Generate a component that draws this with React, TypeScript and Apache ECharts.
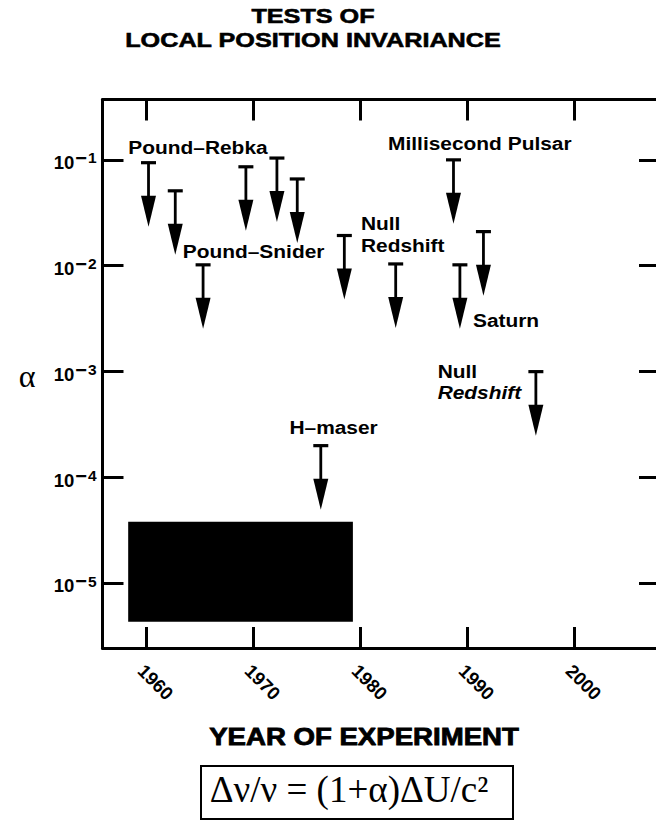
import React, { useEffect, useRef } from "react";
import * as echarts from "echarts";

const FONT = "'Liberation Sans', Arial, Helvetica, sans-serif";
const SERIF = "'Liberation Serif', 'Times New Roman', Times, serif";

// ---- texts ----
const TITLE_LINES = ["TESTS OF", "LOCAL POSITION INVARIANCE"];
const X_AXIS_TITLE = "YEAR OF EXPERIMENT";
const Y_AXIS_TITLE = "α";
const FORMULA = "Δν/ν = (1+α)ΔU/c²";

// ---- axes ----
const YEAR_RANGE = [1955.9, 2008];
const ALPHA_EXP_RANGE = [-5.61, -0.43];
const YEAR_TICKS = [1960, 1970, 1980, 1990, 2000];
const ALPHA_TICK_EXPONENTS = [-1, -2, -3, -4, -5];

// ---- upper limits on alpha (arrows) ----
const EXPERIMENT_YEARS = [1960.2, 1962.7, 1969.3, 1972.2, 1974.1, 1965.3, 1978.5, 1983.3, 1988.7, 1989.3, 1991.5, 1996.4, 1976.3];
const ALPHA_LIMITS = [0.094, 0.051, 0.086, 0.104, 0.066, 0.0102, 0.0193, 0.0104, 0.1, 0.0102, 0.021, 0.001, 0.0002];

// ---- annotation labels (anchor = left edge, text middle, in data units) ----
const LABEL_TEXTS = ["Pound–Rebka", "Pound–Snider", "Millisecond Pulsar", "Null", "Redshift", "Saturn", "Null", "Redshift", "H–maser"];
const LABEL_YEARS = [1958.31, 1963.4, 1982.59, 1980.05, 1980.05, 1990.52, 1987.22, 1987.22, 1973.37];
const LABEL_ALPHAS = [0.1305, 0.01378, 0.1443, 0.02518, 0.0157, 0.003073, 0.001001, 0.000634, 0.000298];
const LABEL_ITALIC = [false, false, false, false, false, false, false, true, false];

// ---- shaded region (black box) ----
const SHADED_YEARS = [1958.3, 1979.3];
const SHADED_ALPHAS = [3.83e-5, 4.35e-6];

function buildOption() {
  const lineStyle = { color: "#000", width: 3 };
  const mkTick = (custom: number[]) => ({
    show: true,
    inside: true,
    length: 21,
    customValues: custom,
    lineStyle: { color: "#000", width: 3 },
  });
  const yMin = Math.pow(10, ALPHA_EXP_RANGE[0]);
  const yMax = Math.pow(10, ALPHA_EXP_RANGE[1]);
  const alphaTicks = ALPHA_TICK_EXPONENTS.map((e) => Math.pow(10, e));

  const xFormatter = (v: number) => {
    const r = Math.round(v);
    return Math.abs(v - r) < 1e-6 && YEAR_TICKS.includes(r) ? String(r) : "";
  };
  const yFormatter = (v: number) => {
    const e = Math.log10(v);
    const r = Math.round(e);
    if (Math.abs(e - r) > 1e-6 || !ALPHA_TICK_EXPONENTS.includes(r)) return "";
    return `{b|10}{m|−}{t|${-r}}`;
  };

  return {
    animation: false,
    backgroundColor: "#fff",
    grid: { left: 102.5, top: 99.5, width: 557.5, height: 548.5, outerBoundsMode: "none", containLabel: false },
    xAxis: [
      {
        type: "value",
        position: "bottom",
        min: YEAR_RANGE[0],
        max: YEAR_RANGE[1],
        splitLine: { show: false },
        axisLine: { show: true, onZero: false, lineStyle },
        axisTick: mkTick(YEAR_TICKS),
        axisLabel: {
          customValues: YEAR_TICKS,
          formatter: xFormatter,
          rotate: -45,
          align: "center",
          verticalAlign: "middle",
          margin: 25,
          padding: [0, 0, 0, 26],
          fontSize: 18.5,
          fontWeight: "bold",
          fontFamily: FONT,
          color: "#000",
        },
      },
      {
        type: "value",
        position: "top",
        min: YEAR_RANGE[0],
        max: YEAR_RANGE[1],
        splitLine: { show: false },
        axisLine: { show: true, onZero: false, lineStyle },
        axisTick: mkTick(YEAR_TICKS),
        axisLabel: { show: false, customValues: YEAR_TICKS },
      },
    ],
    yAxis: [
      {
        type: "log",
        logBase: 10,
        position: "left",
        min: yMin,
        max: yMax,
        splitLine: { show: false },
        axisLine: { show: true, onZero: false, lineStyle },
        axisTick: mkTick(alphaTicks),
        axisLabel: {
          customValues: alphaTicks,
          formatter: yFormatter,
          margin: 6,
          color: "#000",
          fontSize: 18,
          fontWeight: "bold",
          fontFamily: FONT,
          rich: {
            b: { fontSize: 18.5, fontWeight: "bold", fontFamily: FONT, color: "#000", padding: [5, 0, 0, 0] },
            m: { fontSize: 20, fontWeight: "bold", fontFamily: FONT, color: "#000", padding: [0, 1, 4, 1] },
            t: { fontSize: 15.5, fontWeight: "bold", fontFamily: FONT, color: "#000", padding: [0, 0, 4, 0] },
          },
        },
      },
      {
        type: "log",
        logBase: 10,
        position: "right",
        min: yMin,
        max: yMax,
        splitLine: { show: false },
        axisLine: { show: true, onZero: false, lineStyle },
        axisTick: mkTick(alphaTicks),
        axisLabel: { show: false, customValues: alphaTicks },
      },
    ],
    series: [
      {
        type: "custom",
        name: "shaded",
        xAxisIndex: 0,
        yAxisIndex: 0,
        encode: { x: [0, 2], y: [1, 3] },
        data: [[SHADED_YEARS[0], SHADED_ALPHAS[0], SHADED_YEARS[1], SHADED_ALPHAS[1]]],
        renderItem: (params: any, api: any) => {
          const p0 = api.coord([api.value(0), api.value(1)]);
          const p1 = api.coord([api.value(2), api.value(3)]);
          return {
            type: "rect",
            shape: {
              x: Math.min(p0[0], p1[0]),
              y: Math.min(p0[1], p1[1]),
              width: Math.abs(p1[0] - p0[0]),
              height: Math.abs(p1[1] - p0[1]),
            },
            style: { fill: "#000" },
          };
        },
      },
      {
        type: "custom",
        name: "limits",
        xAxisIndex: 0,
        yAxisIndex: 0,
        data: EXPERIMENT_YEARS.map((yr, i) => [yr, ALPHA_LIMITS[i]]),
        renderItem: (params: any, api: any) => {
          const p = api.coord([api.value(0), api.value(1)]);
          const x = p[0];
          const y = p[1];
          return {
            type: "group",
            children: [
              { type: "line", shape: { x1: x - 7.5, y1: y, x2: x + 7.5, y2: y }, style: { stroke: "#000", lineWidth: 3.2 } },
              { type: "line", shape: { x1: x, y1: y, x2: x, y2: y + 36 }, style: { stroke: "#000", lineWidth: 2.8 } },
              { type: "polygon", shape: { points: [[x - 7.5, y + 33], [x + 7.5, y + 33], [x, y + 64]] }, style: { fill: "#000" } },
            ],
          };
        },
      },
      {
        type: "custom",
        name: "labels",
        xAxisIndex: 0,
        yAxisIndex: 0,
        data: LABEL_YEARS.map((yr, i) => [yr, LABEL_ALPHAS[i]]),
        renderItem: (params: any, api: any) => {
          const i = params.dataIndex;
          const p = api.coord([api.value(0), api.value(1)]);
          return {
            type: "text",
            x: p[0],
            y: p[1],
            scaleX: 1.1,
            style: {
              text: LABEL_TEXTS[i],
              x: 0,
              y: 0,
              fill: "#000",
              fontSize: 19,
              fontWeight: "bold",
              fontStyle: LABEL_ITALIC[i] ? "italic" : "normal",
              fontFamily: FONT,
              align: "left",
              verticalAlign: "middle",
            },
          };
        },
      },
    ],
    graphic: [
      {
        type: "text",
        x: 313,
        y: 15.4,
        scaleX: 1.2,
        style: { text: TITLE_LINES[0], fill: "#000", stroke: "#000", lineWidth: 0.6, fontSize: 21, fontWeight: "bold", fontFamily: FONT, align: "center", verticalAlign: "middle" },
      },
      {
        type: "text",
        x: 313,
        y: 39.4,
        scaleX: 1.2,
        style: { text: TITLE_LINES[1], fill: "#000", stroke: "#000", lineWidth: 0.6, fontSize: 21, fontWeight: "bold", fontFamily: FONT, align: "center", verticalAlign: "middle" },
      },
      {
        type: "text",
        x: 364,
        y: 737,
        scaleX: 1.2,
        style: { text: X_AXIS_TITLE, fill: "#000", stroke: "#000", lineWidth: 0.8, fontSize: 23, fontWeight: "bold", fontFamily: FONT, align: "center", verticalAlign: "middle" },
      },
      {
        type: "text",
        x: 27,
        y: 376,
        style: { text: Y_AXIS_TITLE, fill: "#000", fontSize: 32, fontFamily: SERIF, align: "center", verticalAlign: "middle" },
      },
      {
        type: "rect",
        shape: { x: 201, y: 766, width: 312, height: 53 },
        style: { fill: "none", stroke: "#000", lineWidth: 2 },
      },
      {
        type: "text",
        x: 349,
        y: 789.5,
        style: { text: FORMULA, fill: "#000", fontSize: 37, fontFamily: SERIF, align: "center", verticalAlign: "middle" },
      },
    ],
  };
}

export default function App() {
  const ref = useRef<HTMLDivElement | null>(null);
  useEffect(() => {
    if (!ref.current) return;
    const chart = echarts.init(ref.current, undefined, { renderer: "svg" });
    chart.setOption(buildOption() as any);
    return () => chart.dispose();
  }, []);
  return (
    <div
      ref={ref}
      style={{ position: "absolute", left: 0, top: 0, width: 656, height: 826, overflow: "hidden", background: "#fff" }}
    />
  );
}
